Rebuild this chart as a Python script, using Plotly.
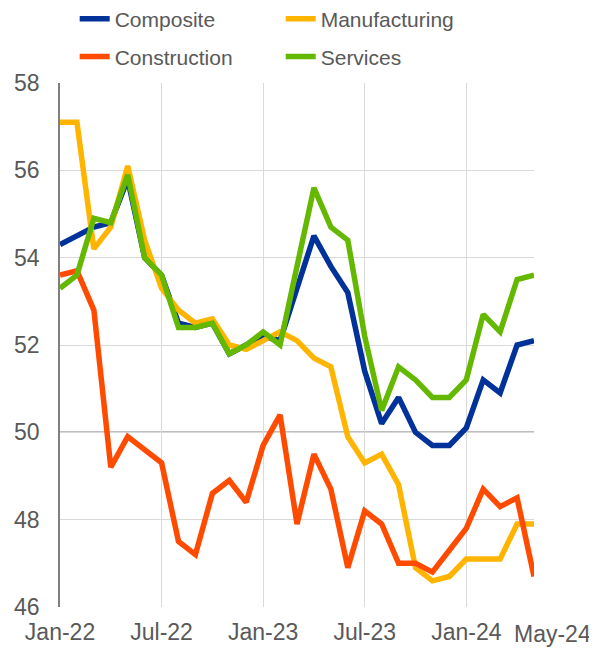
import pandas as pd
import plotly.graph_objects as go

# Monthly PMI readings, Jan-22 to May-24
months = list(pd.date_range("2022-01-01", "2024-05-01", freq="MS").strftime("%b-%y"))

composite = [54.3, 54.5, 54.7, 54.8, 55.8, 54.0, 53.6, 52.5, 52.4, 52.5, 51.8, 52.0,
             52.2, 52.1, 53.3, 54.5, 53.8, 53.2, 51.4, 50.2, 50.8, 50.0, 49.7, 49.7,
             50.1, 51.2, 50.9, 52.0, 52.1]
manufacturing = [57.1, 57.1, 54.2, 54.7, 56.1, 54.4, 53.3, 52.8, 52.5, 52.6, 52.0, 51.9,
                 52.1, 52.3, 52.1, 51.7, 51.5, 49.9, 49.3, 49.5, 48.8, 46.9, 46.6, 46.7,
                 47.1, 47.1, 47.1, 47.9, 47.9]
construction = [53.6, 53.7, 52.8, 49.2, 49.9, 49.6, 49.3, 47.5, 47.2, 48.6, 48.9, 48.4,
                49.7, 50.4, 47.9, 49.5, 48.7, 46.9, 48.2, 47.9, 47.0, 47.0, 46.8, 47.3,
                47.8, 48.7, 48.3, 48.5, 46.7]
services = [53.3, 53.6, 54.9, 54.8, 55.9, 54.0, 53.6, 52.4, 52.4, 52.5, 51.8, 52.0,
            52.3, 52.0, 53.8, 55.6, 54.7, 54.4, 52.2, 50.5, 51.5, 51.2, 50.8, 50.8,
            51.2, 52.7, 52.3, 53.5, 53.6]

tick_months = ["Jan-22", "Jul-22", "Jan-23", "Jul-23", "Jan-24", "May-24"]

series = [
    ("Composite", composite, "#003299", "legend"),
    ("Manufacturing", manufacturing, "#FFB400", "legend"),
    ("Construction", construction, "#FF4B00", "legend2"),
    ("Services", services, "#65B800", "legend2"),
]

fig = go.Figure()
for name, vals, color, leg in series:
    fig.add_trace(go.Scatter(
        x=months, y=vals, name=name, mode="lines",
        line=dict(color=color, width=5.5),
        legend=leg,
    ))

# 50 threshold line
fig.add_shape(type="line", xref="paper", yref="y", x0=0, x1=1, y0=50, y1=50,
              line=dict(color="#7f7f7f", width=1.5), layer="between")

font = dict(family="Arial, Liberation Sans, sans-serif", size=23, color="#595959")
legend_font = dict(family="Arial, Liberation Sans, sans-serif", size=21, color="#595959")

# last label sits right of its gridline (Excel nudges it to avoid Jan-24)
fig.add_annotation(x=tick_months[-1], xref="x", y=0, yref="paper",
                   text=tick_months[-1], showarrow=False, font=font,
                   xanchor="center", yanchor="top", xshift=18, yshift=-12)

fig.update_layout(
    width=597, height=648,
    margin=dict(l=52, r=71, t=75, b=49, autoexpand=False),
    plot_bgcolor="white", paper_bgcolor="white",
    font=font,
    legend=dict(orientation="h", x=0.031, xanchor="left", y=1.122, yanchor="middle",
                entrywidth=161, entrywidthmode="pixels", font=legend_font,
                bgcolor="rgba(0,0,0,0)"),
    legend2=dict(orientation="h", x=0.031, xanchor="left", y=1.05, yanchor="middle",
                 entrywidth=161, entrywidthmode="pixels", font=legend_font,
                 bgcolor="rgba(0,0,0,0)"),
)

fig.update_xaxes(
    type="category", range=[0, len(months) - 1],
    tickvals=tick_months, ticktext=tick_months[:-1] + [""], tickangle=0,
    showgrid=True, gridcolor="#d9d9d9", gridwidth=1,
    showline=False, ticks="", tickfont=font, automargin=False,
    ticklabelstandoff=9,
)
fig.update_yaxes(
    range=[46, 58], dtick=2,
    showgrid=True, gridcolor="#d9d9d9", gridwidth=1,
    showline=True, linecolor="#7f7f7f", linewidth=1.5,
    zeroline=False, ticks="", tickfont=font, automargin=False,
    ticklabelstandoff=14,
)

fig.write_html("out.html")
